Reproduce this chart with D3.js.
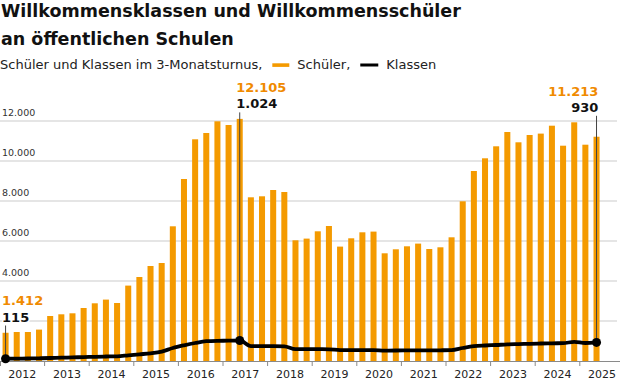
<!DOCTYPE html>
<html><head><meta charset="utf-8">
<script src="https://cdn.jsdelivr.net/npm/d3@7/dist/d3.min.js"></script>
<style>
html,body{margin:0;padding:0;background:#fff;}
svg{display:block;font-family:"DejaVu Sans",sans-serif;}
</style></head>
<body><svg id="c" width="620" height="384"></svg>
<script>
const years = [2012,2013,2014,2015,2016,2017,2018,2019,2020,2021,2022,2023,2024,2025];
const schueler = [1412,1450,1450,1570, 2250,2335,2385,2650, 2885,3070,2900,3770, 4200,4750,4900,6735,
  9100,11085,11400,11985, 11800,12105,8185,8235, 8550,8450,6035,6120, 6485,6750,5720,6135,
  6435,6470,5385,5585, 5735,5870,5600,5685, 6185,7985,9500,10135, 10735,11450,10935,11300,
  11370,11765,10765,11935, 10815,11213];
const klassen = [115,120,125,135, 150,165,180,195, 210,225,235,285, 335,385,470,650,
  785,900,990,1010, 1015,1024,740,740, 740,730,590,590, 590,585,545,540,
  540,545,520,525, 530,530,530,535, 545,650,740,775, 800,830,845,860,
  875,885,890,960, 900,930];
const yTicks = [2000,4000,6000,8000,10000,12000];
const yTickLabels = [4000,6000,8000,10000,12000];
const annotated = [0,21,53];
const title = ["Willkommensklassen und Willkommensschüler","an öffentlichen Schulen"];
const subtitle = "Schüler und Klassen im 3-Monatsturnus,";
const legendLabels = ["Schüler,","Klassen"];

const ORANGE = "#f49a00", ORANGE_TXT = "#f08a00";
const de = d3.formatLocale({decimal:",",thousands:".",grouping:[3],currency:["","€"]});
const fmt = de.format(",d");

const svg = d3.select("#c");
svg.append("rect").attr("width",620).attr("height",384).attr("fill","#fff");

// titles
title.forEach((t,i)=>svg.append("text").attr("x",1).attr("y",16.5+i*28.3)
  .attr("font-size",17.5).attr("font-weight","bold").attr("fill","#111").text(t));
const sub = svg.append("text").attr("x",0).attr("y",69).attr("font-size",13).attr("fill","#222").text(subtitle);
let lx = sub.node().getComputedTextLength() + 10;
svg.append("rect").attr("x",lx).attr("y",63.3).attr("width",17).attr("height",3.6).attr("fill",ORANGE);
lx += 25;
const l1 = svg.append("text").attr("x",lx).attr("y",69).attr("font-size",13).attr("fill","#222").text(legendLabels[0]);
lx += l1.node().getComputedTextLength() + 10;
svg.append("line").attr("x1",lx).attr("x2",lx+18).attr("y1",65).attr("y2",65).attr("stroke","#000").attr("stroke-width",3);
lx += 26;
svg.append("text").attr("x",lx).attr("y",69).attr("font-size",13).attr("fill","#222").text(legendLabels[1]);

// scales
const quarters = [];
years.forEach(y=>{for(let q=1;q<=4;q++) quarters.push(y+" Q"+q);});
const xr = [0,624.4];
const xb = d3.scaleBand().domain(quarters).range(xr).paddingInner(0.46).paddingOuter(0.23);
const xYear = d3.scaleLinear().domain([years[0], years[years.length-1]+1]).range(xr);
const y = d3.scaleLinear().domain([0,12000]).range([361,121]);
const cx = i => xb(quarters[i]) + xb.bandwidth()/2;

// grid
svg.append("g").selectAll("line").data(yTicks).join("line")
  .attr("x1",0).attr("x2",617).attr("y1",d=>y(d)).attr("y2",d=>y(d))
  .attr("stroke","#dcdcdc").attr("stroke-width",1.4);
svg.append("g").selectAll("text").data(yTickLabels).join("text")
  .attr("x",2).attr("y",d=>y(d)-5.3).attr("font-size",9.5).attr("fill","#333").text(d=>fmt(d));

// bars
svg.append("g").selectAll("rect").data(schueler).join("rect")
  .attr("x",(d,i)=>xb(quarters[i])).attr("width",xb.bandwidth())
  .attr("y",d=>y(d)).attr("height",d=>y(0)-y(d)).attr("fill",ORANGE);

// axis
svg.append("line").attr("x1",0).attr("x2",620).attr("y1",361.5).attr("y2",361.5).attr("stroke","#8a8a8a").attr("stroke-width",1);
svg.append("g").selectAll("line").data(years).join("line")
  .attr("x1",d=>Math.max(0.5,xYear(d))).attr("x2",d=>Math.max(0.5,xYear(d)))
  .attr("y1",361.5).attr("y2",366).attr("stroke","#8a8a8a");
svg.append("g").selectAll("text").data(years).join("text")
  .attr("x",d=>xYear(d+0.5)).attr("y",377.5).attr("text-anchor","middle")
  .attr("font-size",11).attr("fill","#222").text(d=>d);

// annotation lines (under line)
const ann = annotated.map(i=>{
  const lo=Math.max(0,i-2), hi=Math.min(schueler.length-1,i+2);
  const top = y(d3.max(schueler.slice(lo,hi+1))) - 10.5;
  return {i, b2: top, b1: top-16.3};
});
svg.append("g").selectAll("line").data(ann).join("line")
  .attr("x1",d=>cx(d.i)).attr("x2",d=>cx(d.i)).attr("y1",d=>d.b2+4).attr("y2",d=>y(klassen[d.i]))
  .attr("stroke","#444").attr("stroke-width",1);

// klassen line
svg.append("path").datum(klassen)
  .attr("d",d3.line().x((d,i)=>cx(i)).y(d=>y(d)).curve(d3.curveMonotoneX))
  .attr("fill","none").attr("stroke","#000").attr("stroke-width",3.8).attr("stroke-linejoin","round");
svg.append("g").selectAll("circle").data(ann).join("circle")
  .attr("cx",d=>cx(d.i)).attr("cy",d=>y(klassen[d.i])).attr("r",4.5).attr("fill","#000");

// annotation labels
const last = schueler.length-1;
ann.forEach(d=>{
  const end = d.i===last;
  const x = end ? cx(d.i)+1.8 : cx(d.i)-3.5;
  const g = svg.append("g").attr("font-size",13).attr("font-weight","bold")
    .attr("text-anchor",end?"end":"start").attr("stroke","#fff").attr("stroke-width",3)
    .attr("paint-order","stroke").attr("stroke-linejoin","round");
  g.append("text").attr("x",x).attr("y",d.b1).attr("fill",ORANGE_TXT).text(fmt(schueler[d.i]));
  g.append("text").attr("x",x).attr("y",d.b2).attr("fill","#111").text(fmt(klassen[d.i]));
});
</script></body></html>
